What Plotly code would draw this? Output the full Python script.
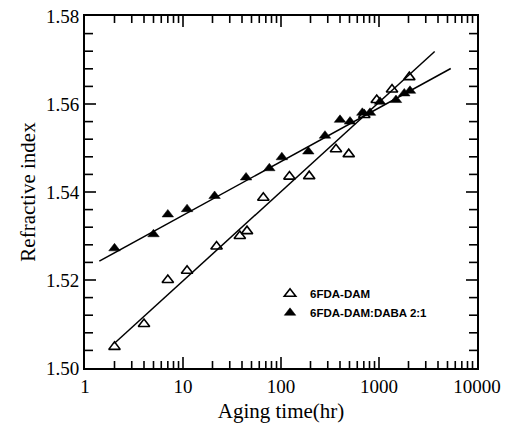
import numpy as np
import plotly.graph_objects as go

# 6FDA-DAM (open triangles)
t_dam = [2, 4, 7, 11, 22, 38, 45, 66, 122, 194, 364, 491, 708, 948, 1358, 2038]
n_dam = [1.5048, 1.5100, 1.5200, 1.5221, 1.5276, 1.5300, 1.5311, 1.5387,
         1.5435, 1.5436, 1.5497, 1.5486, 1.5575, 1.5609, 1.5633, 1.5661]

# 6FDA-DAM:DABA 2:1 (filled triangles)
t_daba = [2, 5, 7, 11, 21, 44, 76, 102, 190, 281, 400, 506, 676, 809, 1024, 1490, 1812, 2071]
n_daba = [1.5272, 1.5304, 1.5349, 1.5361, 1.5391, 1.5433, 1.5454, 1.5479,
          1.5492, 1.5528, 1.5564, 1.5560, 1.5580, 1.5580, 1.5605, 1.5609, 1.5624, 1.5630]

# fitted lines: n = a + b*log10(t), drawn over t range
fit_dam = dict(a=1.4995, b=0.0203, t=[2, 3700])
fit_daba = dict(a=1.5225, b=0.01221, t=[1.4, 5400])

# axis ticks
x_major = [1, 10, 100, 1000, 10000]
x_labels = ["1", "10", "100", "1000", "10000"]
x_minor = [m * 10 ** d for d in range(4) for m in range(2, 10)]
y_major = [1.50, 1.52, 1.54, 1.56, 1.58]
y_labels = ["1.50", "1.52", "1.54", "1.56", "1.58"]
y_minor = [round(1.50 + 0.004 * k, 3) for k in range(1, 20) if k % 5]

X_RANGE_LOG = [0, 4]
Y_RANGE = [1.50, 1.58]
W, H = 513, 423
M = dict(l=85, r=36, t=16, b=55)
PW = W - M["l"] - M["r"]
PH = H - M["t"] - M["b"]


def fit_line(fit):
    xs = np.logspace(np.log10(fit["t"][0]), np.log10(fit["t"][1]), 50)
    return xs, fit["a"] + fit["b"] * np.log10(xs)


fig = go.Figure()

# inside tick marks on all four sides, built from the tick value lists
tx, ty = [], []
for vals, ln in ((x_major[1:-1], 11), (x_minor, 7)):
    d = ln / PH * (Y_RANGE[1] - Y_RANGE[0])
    for v in vals:
        tx += [v, v, None, v, v, None]
        ty += [Y_RANGE[0], Y_RANGE[0] + d, None, Y_RANGE[1], Y_RANGE[1] - d, None]
for vals, ln in ((y_major[1:-1], 11), (y_minor, 8)):
    d = ln / PW * (X_RANGE_LOG[1] - X_RANGE_LOG[0])
    for v in vals:
        tx += [10 ** X_RANGE_LOG[0], 10 ** (X_RANGE_LOG[0] + d), None,
               10 ** X_RANGE_LOG[1], 10 ** (X_RANGE_LOG[1] - d), None]
        ty += [v, v, None, v, v, None]
fig.add_trace(go.Scatter(x=tx, y=ty, mode="lines", line=dict(color="black", width=1.6),
                         showlegend=False, hoverinfo="skip", cliponaxis=False))

for fit in (fit_dam, fit_daba):
    xs, ys = fit_line(fit)
    fig.add_trace(go.Scatter(x=xs, y=ys, mode="lines", line=dict(color="black", width=1.5),
                             showlegend=False, hoverinfo="skip"))

fig.add_trace(go.Scatter(x=t_dam, y=n_dam, mode="markers", name="6FDA-DAM",
                         marker=dict(symbol="triangle-up-open", size=10, color="black",
                                     line=dict(width=1.6, color="black"))))
fig.add_trace(go.Scatter(x=t_daba, y=n_daba, mode="markers", name="6FDA-DAM:DABA 2:1",
                         marker=dict(symbol="triangle-up", size=10, color="black",
                                     line=dict(width=0.5, color="black"))))

serif = "Liberation Serif"

fig.update_layout(
    width=W, height=H,
    margin=M,
    paper_bgcolor="white", plot_bgcolor="white",
    font=dict(family=serif, color="black", size=19),
    legend=dict(x=0.472, y=0.252, xanchor="left", yanchor="top",
                bgcolor="rgba(0,0,0,0)",
                font=dict(family="Liberation Sans", size=11.5, color="black", weight="bold"),
                itemwidth=30, tracegroupgap=0),
    showlegend=True,
)

fig.update_xaxes(
    type="log", range=X_RANGE_LOG, automargin=False,
    tickmode="array", tickvals=x_major, ticktext=x_labels,
    ticks="", showline=True, linecolor="black", linewidth=2, mirror=True,
    showgrid=False, zeroline=False,
    tickfont=dict(family=serif, size=19),
    title=dict(text="Aging time(hr)", font=dict(family=serif, size=21), standoff=11),
)
fig.update_yaxes(
    range=Y_RANGE, automargin=False,
    tickmode="array", tickvals=y_major, ticktext=y_labels,
    ticks="", showline=True, linecolor="black", linewidth=2, mirror=True,
    showgrid=False, zeroline=False,
    tickfont=dict(family=serif, size=19),
    title=dict(text="Refractive index", font=dict(family=serif, size=21), standoff=5),
)

fig.write_html("out.html")
